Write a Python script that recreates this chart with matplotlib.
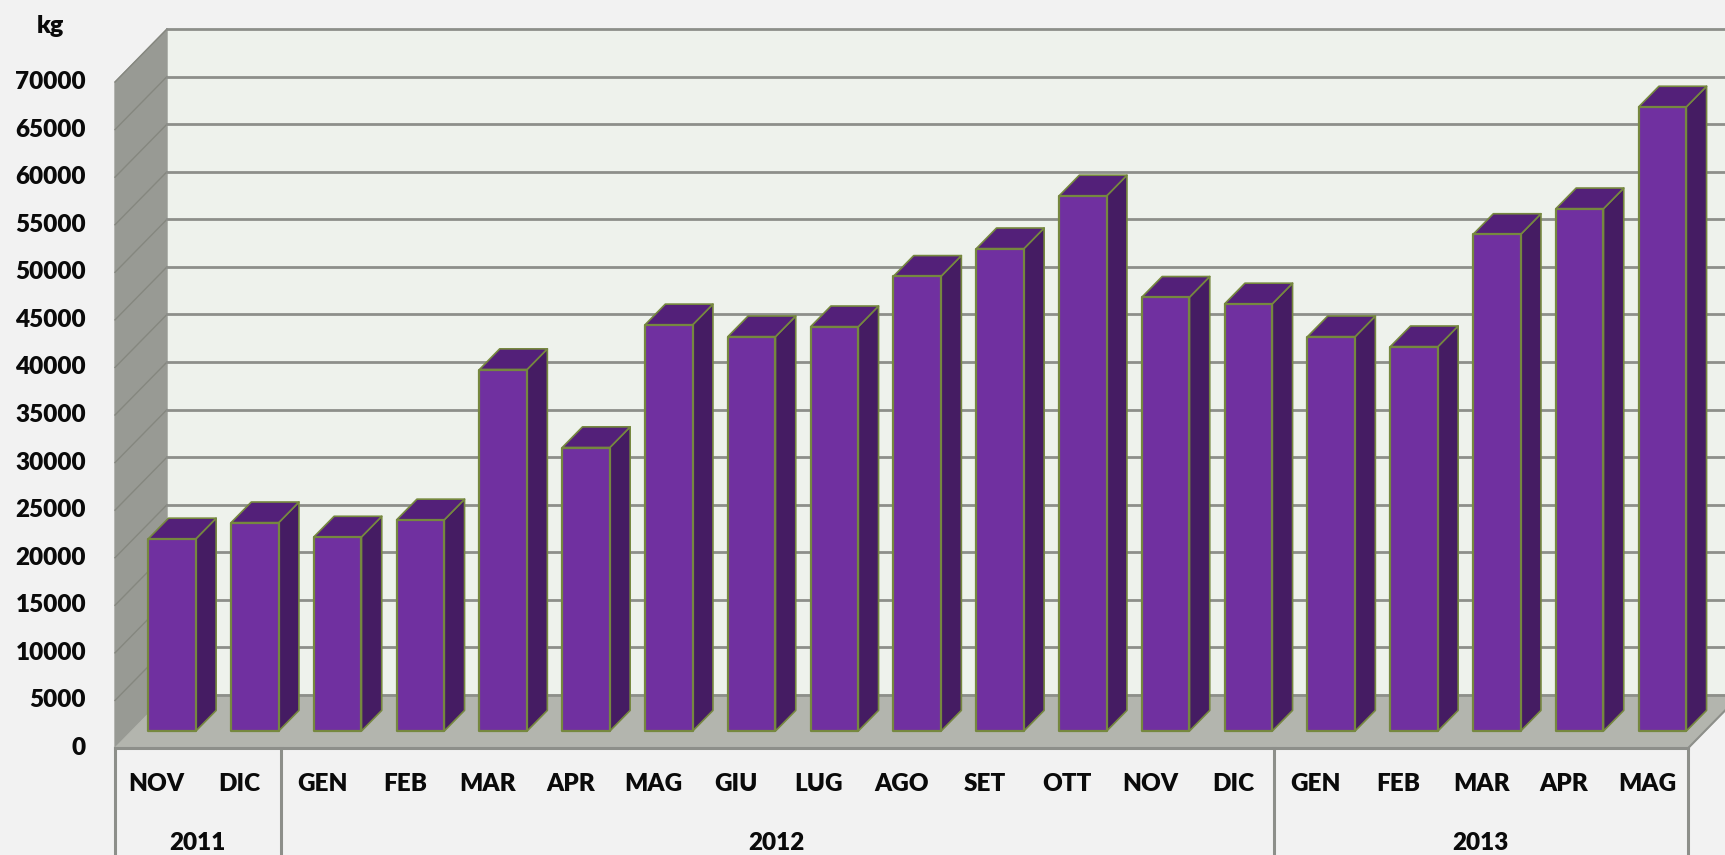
import matplotlib.pyplot as plt
from matplotlib.patches import Polygon

# Values
months = ["NOV", "DIC", "GEN", "FEB", "MAR", "APR", "MAG", "GIU", "LUG", "AGO",
          "SET", "OTT", "NOV", "DIC", "GEN", "FEB", "MAR", "APR", "MAG"]
values = [20200, 21900, 20400, 22200, 38000, 29800, 42700, 41450, 42500, 47800,
          50700, 56250, 45600, 44900, 41450, 40400, 52200, 54900, 65600]
years = ["2011", "2012", "2013"]
year_counts = [2, 12, 5]
y_ticks = list(range(0, 70001, 5000))

# Colours
BG = "#F2F2F2"
BACK_WALL = "#EEF2EC"
SIDE_WALL = "#989A94"
FLOOR = "#B3B5AE"
GRID = "#8D8F8A"
SIDE_GRID = "#85877F"
FRONT = "#7030A0"
SIDE = "#451C63"
TOP = "#532079"
EDGE = "#76883F"
TEXT = "#0A0A0A"

# 3D look: how far one unit of depth moves a point, in data units
DEPTH_X = 0.628
DEPTH_Y = 5570
BAR_NEAR = 0.32
BAR_FAR = 0.71
BAR_WIDTH = 0.575
BAR_SHIFT = -0.012
Y_MAX = y_ticks[-1]

plt.rcParams["font.family"] = ["Lato", "DejaVu Sans"]
plt.rcParams["font.weight"] = "heavy"

fig = plt.figure(figsize=(17.25, 8.55), dpi=100, facecolor=BG)
ax = fig.add_axes([0, 0, 1, 1])
ax.set_xlim(-1.889, 18.944)
ax.set_ylim(-11247, 78620)
ax.axis("off")


def project(x, y, depth):
    return (x + depth * DEPTH_X, y + depth * DEPTH_Y)


def face(points, color, edge=None, lw=1.0, z=1):
    ax.add_patch(Polygon([project(*p) for p in points], closed=True, facecolor=color,
                         edgecolor=edge if edge else color, linewidth=lw, zorder=z,
                         joinstyle="round"))


n = len(months)
left = -0.5
right = n - 0.5

# walls and floor
face([(left, 0, 1), (right, 0, 1), (right, Y_MAX, 1), (left, Y_MAX, 1)], BACK_WALL)
face([(left, 0, 0), (left, 0, 1), (left, Y_MAX, 1), (left, Y_MAX, 0)], SIDE_WALL)
face([(left, 0, 0), (right, 0, 0), (right, 0, 1), (left, 0, 1)], FLOOR)

for tick in y_ticks:
    x0, y0 = project(left, tick, 0)
    x1, y1 = project(left, tick, 1)
    x2, y2 = project(right, tick, 1)
    if tick > 0:
        ax.plot([x0, x1], [y0, y1], color=SIDE_GRID, lw=1.0, zorder=2)
    ax.plot([x1, x2], [y1, y2], color=GRID, lw=2.0, zorder=2)
    ax.text(-0.85, tick, str(tick), ha="right", va="center",
            fontsize=17.5, color=TEXT, zorder=6)

ax.text(-1.28, 75900, "kg", ha="center", va="center", fontsize=18, color=TEXT)

# floor edge on the right going back
x0, y0 = project(right, 0, 0)
x1, y1 = project(right, 0, 1)
ax.plot([x0, x1], [y0, y1], color=GRID, lw=1.5, zorder=2)

# bars, left to right
for i, val in enumerate(values):
    a = i + BAR_SHIFT - BAR_WIDTH / 2
    b = i + BAR_SHIFT + BAR_WIDTH / 2
    face([(b, 0, BAR_NEAR), (b, 0, BAR_FAR), (b, val, BAR_FAR), (b, val, BAR_NEAR)],
         SIDE, EDGE, 1.2, 3)
    face([(a, val, BAR_NEAR), (b, val, BAR_NEAR), (b, val, BAR_FAR), (a, val, BAR_FAR)],
         TOP, EDGE, 1.2, 3)
    face([(a, 0, BAR_NEAR), (b, 0, BAR_NEAR), (b, val, BAR_NEAR), (a, val, BAR_NEAR)],
         FRONT, EDGE, 1.6, 4)

# category axis: months, years and dividers
ax.plot([left, right], [0, 0], color=GRID, lw=2.2, zorder=5)
for i, month in enumerate(months):
    ax.text(i, -3800, month, ha="center", va="center", fontsize=17.5, color=TEXT)

start = left
ax.plot([start, start], [0, -11247], color=GRID, lw=2.2, zorder=5)
for year, count in zip(years, year_counts):
    end = start + count
    ax.plot([end, end], [0, -11247], color=GRID, lw=2.2, zorder=5)
    ax.text((start + end) / 2 - 0.01, -10000, year, ha="center", va="center", fontsize=17.5,
            color=TEXT)
    start = end

fig.savefig("out.png", dpi=100, facecolor=BG)
